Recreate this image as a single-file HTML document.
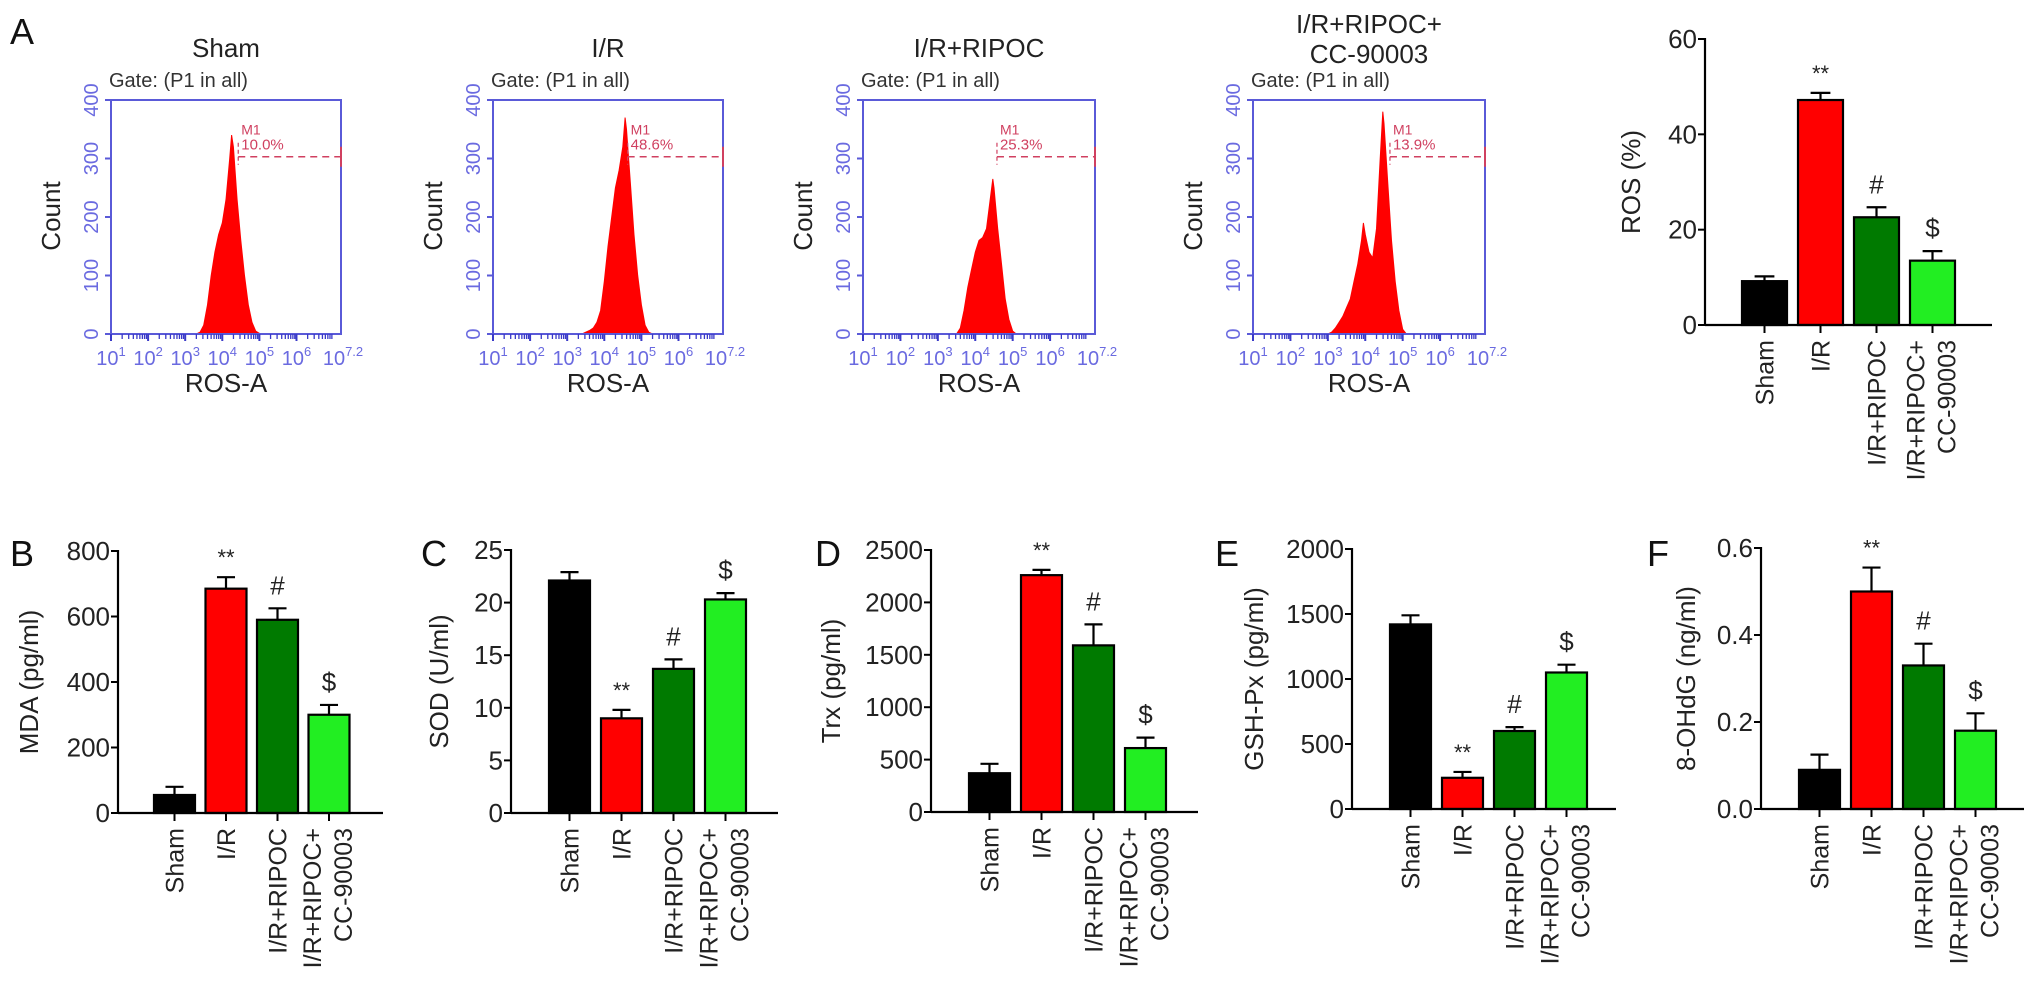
<!DOCTYPE html>
<html><head><meta charset="utf-8"><style>
html,body{margin:0;padding:0;background:#fff;}
svg{display:block;font-family:"Liberation Sans",Arial,sans-serif;}
</style></head><body>
<svg id="fig" width="2031" height="989" viewBox="0 0 2031 989" xmlns="http://www.w3.org/2000/svg">
<text x="10" y="44" font-size="36" fill="#111">A</text>
</svg>
<script>
// ---- Flow cytometry data (counts per log10 bin) ----
const flowTitles = [["Sham"],["I/R"],["I/R+RIPOC"],["I/R+RIPOC+","CC-90003"]];
const flowPercents = ["10.0%","48.6%","25.3%","13.9%"];
const flowGateLog = [4.43,4.63,4.58,4.66];
const shamLogs = [3.3,3.4,3.5,3.6,3.7,3.8,3.9,4.0,4.1,4.2,4.25,4.3,4.4,4.5,4.6,4.7,4.8,4.9,5.0,5.1];
const shamCounts = [0,3,15,50,100,140,170,190,230,300,340,320,230,160,100,50,20,5,1,0];
const irLogs = [3.4,3.5,3.6,3.7,3.8,3.9,4.0,4.1,4.2,4.3,4.4,4.5,4.56,4.6,4.7,4.8,4.9,5.0,5.1,5.2,5.3];
const irCounts = [0,3,6,10,20,40,90,150,200,250,280,320,370,350,260,170,100,50,15,3,0];
const ripocLogs = [3.5,3.6,3.7,3.8,3.9,4.0,4.1,4.2,4.3,4.4,4.47,4.5,4.6,4.7,4.8,4.9,5.0,5.1];
const ripocCounts = [0,10,40,80,110,140,160,165,180,230,265,250,180,120,60,25,5,0];
const ccLogs = [3.0,3.1,3.2,3.3,3.4,3.5,3.6,3.7,3.8,3.9,3.95,4.0,4.1,4.2,4.3,4.4,4.47,4.5,4.6,4.7,4.8,4.9,5.0,5.1];
const ccCounts = [0,3,10,20,30,45,60,90,120,160,190,170,140,130,180,300,380,360,260,160,90,40,8,0];
const flowYTicks = [0,100,200,300,400];
const flowXTicks = [1,2,3,4,5,6,7.2];

// ---- ROS bar chart ----
const categories = ["Sham","I/R","I/R+RIPOC","I/R+RIPOC+|CC-90003"];
const barColors = ["#000000","#ff0000","#007a00","#22ee22"];
const sigMarks = ["","**","#","$"];
const rosValues = [9.2,47.2,22.6,13.5];
const rosErrors = [1.0,1.5,2.1,2.0];
const rosTicks = [0,20,40,60];
// ---- B-F ----
const mdaValues = [55,685,590,300];
const mdaErrors = [25,35,35,30];
const mdaTicks = [0,200,400,600,800];
const sodValues = [22.1,9.0,13.7,20.3];
const sodErrors = [0.8,0.8,0.9,0.6];
const sodTicks = [0,5,10,15,20,25];
const trxValues = [370,2260,1590,610];
const trxErrors = [90,50,200,100];
const trxTicks = [0,500,1000,1500,2000,2500];
const gshValues = [1420,240,600,1050];
const gshErrors = [70,45,30,60];
const gshTicks = [0,500,1000,1500,2000];
const ohdgValues = [0.09,0.5,0.33,0.18];
const ohdgErrors = [0.035,0.055,0.05,0.04];
const ohdgTicks = [0,0.2,0.4,0.6];

const svg = document.getElementById('fig');
const NS = "http://www.w3.org/2000/svg";
function mk(tag, attrs, parent){ const e=document.createElementNS(NS,tag); for(const k in attrs) e.setAttribute(k,attrs[k]); (parent||svg).appendChild(e); return e; }

const BLUE="#6a6ae0", AXB="#5a5ad8";
const flowSeries = [[shamLogs,shamCounts],[irLogs,irCounts],[ripocLogs,ripocCounts],[ccLogs,ccCounts]];
const flowBoxes = [{l:111,r:341},{l:493,r:723},{l:863,r:1095},{l:1253,r:1485}];
const fTop=100, fBot=334;
flowBoxes.forEach((b,i)=>{
  const g=mk('g',{});
  
  
  const xOf=v=>b.l+(v-1)/6.2*(b.r-b.l);
  const yOf=c=>fBot-c/400*(fBot-fTop);
  const cx=(b.l+b.r)/2;
  // title
  const tl=flowTitles[i];
  tl.forEach((t,j)=>{
    const tt=mk('text',{x:cx,y:tl.length===1?57:(33+j*30),'font-size':26,'text-anchor':'middle',fill:'#222'},g);
    tt.textContent=t;
    
    
  });
  const gt=mk('text',{x:b.l-2,y:87,'font-size':20,fill:'#333'},g); gt.textContent="Gate: (P1 in all)";
  
  
  // histogram
  const [lg,ct]=flowSeries[i];
  let pts=lg.map((v,k)=>xOf(v).toFixed(1)+','+yOf(ct[k]).toFixed(1));
  pts.unshift(xOf(lg[0]).toFixed(1)+','+fBot); pts.push(xOf(lg[lg.length-1]).toFixed(1)+','+fBot);
  const h=mk('polygon',{points:pts.join(' '),fill:'#ff0000',stroke:'#ff0000','stroke-width':1},g);
  
  
  // box
  const bx=mk('rect',{x:b.l,y:fTop,width:b.r-b.l,height:fBot-fTop,fill:'none',stroke:AXB,'stroke-width':2},g);
  
  
  // y ticks
  flowYTicks.forEach(v=>{
    const y=yOf(v);
    mk('line',{x1:b.l-6,x2:b.l,y1:y,y2:y,stroke:AXB,'stroke-width':2},g);
    const t=mk('text',{x:b.l-13,y:y,'font-size':20,'text-anchor':'middle',fill:BLUE,transform:`rotate(-90 ${b.l-13} ${y})`},g);
    t.textContent=v;
    
    
  });
  // minor x ticks
  for(let d=1; d<7; d++){ for(let k=1;k<10;k++){ const lv=d+Math.log10(k); if(lv>7.2) break; const x=xOf(lv);
    mk('line',{x1:x,x2:x,y1:fBot,y2:fBot+(k===1?7:5),stroke:'#3a3ac8','stroke-width':k===1?2:1.3},g);} }
  flowXTicks.forEach(v=>{
    const t=mk('text',{x:xOf(v)+(v===7.2?2:0),y:365,'font-size':20,'text-anchor':'middle',fill:BLUE},g);
    const a=mk('tspan',{},t); a.textContent="10";
    const s=mk('tspan',{dy:-9,'font-size':13},t); s.textContent=String(v);
    
    
  });
  const xl=mk('text',{x:cx,y:392,'font-size':26,'text-anchor':'middle',fill:'#222'},g); xl.textContent="ROS-A";
  
  
  const yl=mk('text',{x:b.l-51,y:216,'font-size':26,'text-anchor':'middle',fill:'#222',transform:`rotate(-90 ${b.l-51} 216)`},g); yl.textContent="Count";
  
  
  // M1 gate
  const gx=xOf(flowGateLog[i]), gy=yOf(303);
  const gl=mk('line',{x1:gx,x2:b.r,y1:gy,y2:gy,stroke:'#d04060','stroke-width':1.6,'stroke-dasharray':'7 5'},g);
  
  
  mk('line',{x1:gx,x2:gx,y1:gy-14,y2:gy+8,stroke:'#d04060','stroke-width':1.2,'stroke-dasharray':'4 3'},g);
  mk('line',{x1:b.r,x2:b.r,y1:gy-10,y2:gy+10,stroke:'#d04060','stroke-width':2},g);
  const m1=mk('text',{x:gx+3,y:gy-22,'font-size':14,fill:'#d04060'},g); m1.textContent="M1";
  
  
  const pc=mk('text',{x:gx+3,y:gy-7,'font-size':15,fill:'#d04060'},g); pc.textContent=flowPercents[i];
  
  
});

// ---- Bar panels ----
function barPanel(o){
  const g=mk('g',{});
  
  
  const max=o.ticks[o.ticks.length-1];
  const yOf=v=>o.base-v/max*(o.base-o.top);
  const bw=o.bw, pitch=o.pitch;
  if(o.letter){ const L=mk('text',{x:o.lx,y:566,'font-size':36,fill:'#111'},g); L.textContent=o.letter;
    
     }
  o.values.forEach((v,i)=>{
    const x0=o.ax+o.off+i*pitch, cx=x0+bw/2;
    const top=yOf(v), et=yOf(v+o.errors[i]);
    const el=mk('line',{x1:cx,x2:cx,y1:top,y2:et,stroke:'#000','stroke-width':2.2},g);
    mk('line',{x1:cx-bw*0.22,x2:cx+bw*0.22,y1:et,y2:et,stroke:'#000','stroke-width':2.2},g);
    
    
    const r=mk('rect',{x:x0,y:top,width:bw,height:o.base-top,fill:barColors[i],stroke:'#000','stroke-width':2.2},g);
    
    
    mk('line',{x1:cx,x2:cx,y1:o.base,y2:o.base+8,stroke:'#000','stroke-width':2},g);
    if(sigMarks[i]){ const s=mk('text',{x:cx,y:et-(sigMarks[i]==="**"?12:14),'font-size':sigMarks[i]==="**"?22:26,'text-anchor':'middle',fill:'#222'},g);
      s.textContent=sigMarks[i];
      
       }
    const parts=categories[i].split('|');
    parts.forEach((p,j)=>{
      const bx = parts.length===1? cx+9 : cx-8+j*31;
      const ly=o.base+15;
      const t=mk('text',{x:bx,y:ly,'font-size':25,'text-anchor':'end',fill:'#222',transform:`rotate(-90 ${bx} ${ly})`},g);
      t.textContent=p;
      
      
    });
  });
  mk('line',{x1:o.ax,x2:o.ax,y1:o.top-1,y2:o.base+1,stroke:'#000','stroke-width':2.2},g);
  const xa=mk('line',{x1:o.ax,x2:o.ax+o.len,y1:o.base,y2:o.base,stroke:'#000','stroke-width':2.2},g);
  
  
  o.ticks.forEach(v=>{
    const y=yOf(v);
    mk('line',{x1:o.ax-7,x2:o.ax,y1:y,y2:y,stroke:'#000','stroke-width':2},g);
    const t=mk('text',{x:o.ax-8,y:y+9,'font-size':26,'text-anchor':'end',fill:'#222'},g);
    t.textContent=o.fmt?v.toFixed(1):v;
    
    
  });
  const cy=(o.top+o.base)/2, yx=o.ax-o.ylo;
  const yl=mk('text',{x:yx,y:cy,'font-size':26,'text-anchor':'middle',fill:'#222',transform:`rotate(-90 ${yx} ${cy})`},g);
  yl.textContent=o.ylabel;
  
  
}
barPanel({name:'ros-bar-chart',ax:1705,top:39,base:325,len:287,off:37,bw:45,pitch:56,values:rosValues,errors:rosErrors,ticks:rosTicks,ylabel:'ROS (%)',ylo:65});
barPanel({name:'mda-chart',letter:'B',lx:10,ax:118,top:551,base:813,len:265,off:36,bw:41,pitch:51.5,values:mdaValues,errors:mdaErrors,ticks:mdaTicks,ylabel:'MDA (pg/ml)',ylo:80});
barPanel({name:'sod-chart',letter:'C',lx:421,ax:511,top:550,base:813,len:267,off:38,bw:41,pitch:52,values:sodValues,errors:sodErrors,ticks:sodTicks,ylabel:'SOD (U/ml)',ylo:63});
barPanel({name:'trx-chart',letter:'D',lx:815,ax:931,top:550,base:812,len:267,off:38,bw:41,pitch:52,values:trxValues,errors:trxErrors,ticks:trxTicks,ylabel:'Trx (pg/ml)',ylo:91});
barPanel({name:'gsh-px-chart',letter:'E',lx:1215,ax:1352,top:549,base:809,len:264,off:38,bw:41,pitch:52,values:gshValues,errors:gshErrors,ticks:gshTicks,ylabel:'GSH-Px (pg/ml)',ylo:89});
barPanel({name:'ohdg-chart',letter:'F',lx:1647,ax:1761,top:548,base:809,len:263,off:38,bw:41,pitch:52,values:ohdgValues,errors:ohdgErrors,ticks:ohdgTicks,ylabel:'8-OHdG (ng/ml)',ylo:66,fmt:true});
</script>
</body></html>
